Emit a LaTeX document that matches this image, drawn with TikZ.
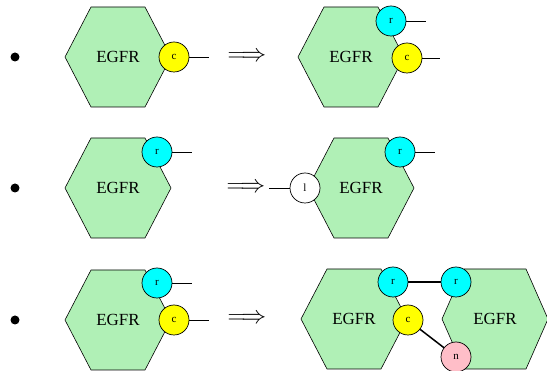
\documentclass[tikz,border=0pt]{standalone}
\usepackage{fontspec}
\setmainfont{Liberation Serif}
\definecolor{hexgreen}{RGB}{176,240,182}
\definecolor{pinkn}{RGB}{255,190,200}
\definecolor{cyanr}{RGB}{0,255,255}
\definecolor{yellowc}{RGB}{255,255,0}
\tikzset{
  hexa/.style={draw=black, line width=0.6pt, fill=hexgreen},
  lbl/.style={font=\fontsize{17}{17}\selectfont, inner sep=0pt},
  site/.style={circle, draw=black, line width=0.7pt, minimum size=30pt, inner sep=0pt, font=\fontsize{11}{11}\selectfont},
  csite/.style={site, fill=yellowc},
  rsite/.style={site, fill=cyanr},
  nsite/.style={site, fill=pinkn},
  lsite/.style={site, fill=white},
  tail/.style={line width=0.7pt},
  bond/.style={line width=1.5pt},
  bul/.style={circle, fill=black, minimum size=9pt, inner sep=0pt},
  implies/.style={inner sep=0pt, font=\fontsize{24}{24}\selectfont}
}
\newcommand{\hexat}[3]{\draw[hexa] (#1,#2) ++(-53,0) -- ++(53-#3,-50) -- ++(2*#3,0) -- ++(53-#3,50) -- ++(-53+#3,50) -- ++(-2*#3,0) -- cycle;}
\begin{document}
\begin{tikzpicture}[x=1pt,y=-1pt]
\useasboundingbox (0,0) rectangle (547,371);
% bullets
\node[bul] (b1) at (15,57) {};
\node[bul] (b2) at (15,188) {};
\node[bul] (b3) at (15,320) {};
% implication arrows
\node[implies] (a1) at (247,57) {$\Longrightarrow$};
\node[implies] (a2) at (246,188) {$\Longrightarrow$};
\node[implies] (a3) at (247,319) {$\Longrightarrow$};
% hexagons
\hexat{118}{57}{27}
\hexat{351}{57}{27}
\hexat{118}{188}{27}
\hexat{361}{188}{27}
\hexat{118}{320}{27}
\hexat{354}{319}{27}
\hexat{495}{319}{31}
\node[lbl] (h1) at (118,57) {EGFR};
\node[lbl] (h2) at (351,57) {EGFR};
\node[lbl] (h3) at (118,188) {EGFR};
\node[lbl] (h4) at (361,188) {EGFR};
\node[lbl] (h5) at (118,320) {EGFR};
\node[lbl] (h6) at (354,319) {EGFR};
\node[lbl] (h7) at (495,319) {EGFR};
% free ends
\coordinate (e1c) at (209,57);
\coordinate (e2r) at (426,21);
\coordinate (e2c) at (440,58);
\coordinate (e3r) at (192,152);
\coordinate (e4l) at (269,188);
\coordinate (e4r) at (435,152);
\coordinate (e5r) at (192,283);
\coordinate (e5c) at (209,320);
% sites
\node[csite] (c1) at (174,57) {c};
\node[rsite] (r2) at (391,21) {r};
\node[csite] (c2) at (407,58) {c};
\node[rsite] (r3) at (157,152) {r};
\node[lsite] (l4) at (305,188) {l};
\node[rsite] (r4) at (400,152) {r};
\node[rsite] (r5) at (157,283) {r};
\node[csite] (c5) at (174,320) {c};
\node[rsite] (r6) at (393,282) {r};
\node[csite] (c6) at (408,320) {c};
\node[rsite] (r7) at (456,282) {r};
\node[nsite] (n7) at (456,357) {n};
% connectors
\draw[tail] (c1) -- (e1c);
\draw[tail] (r2) -- (e2r);
\draw[tail] (c2) -- (e2c);
\draw[tail] (r3) -- (e3r);
\draw[tail] (e4l) -- (l4);
\draw[tail] (r4) -- (e4r);
\draw[tail] (r5) -- (e5r);
\draw[tail] (c5) -- (e5c);
\draw[bond] (r6) -- (r7);
\draw[bond] (c6) -- (n7);
\end{tikzpicture}
\end{document}
